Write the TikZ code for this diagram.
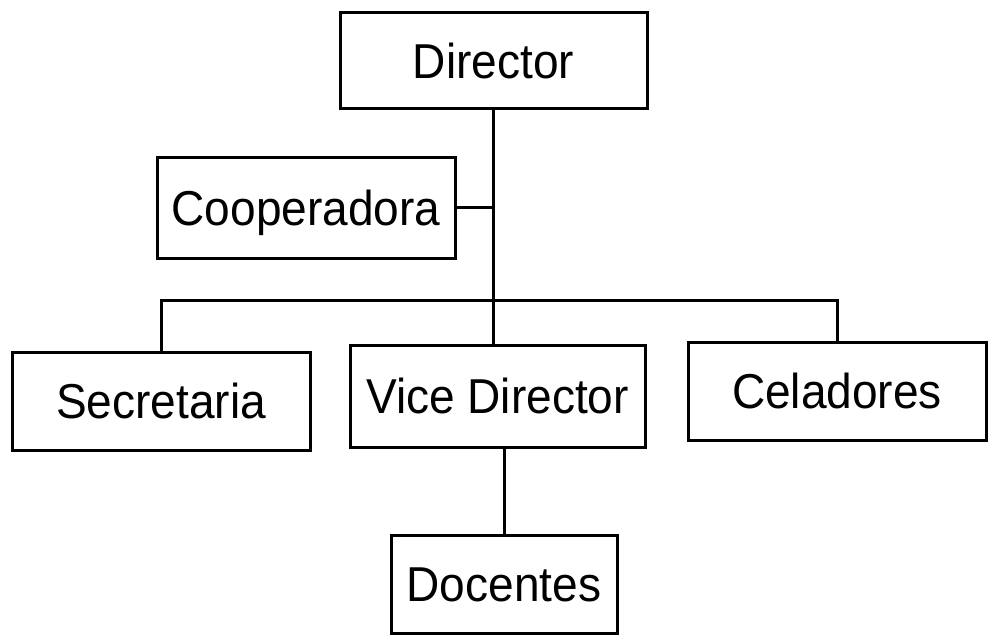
\documentclass[tikz,border=0pt]{standalone}
\usepackage{fontspec}
\setmainfont{Liberation Sans}[FakeStretch=0.94]
\newcommand\orgfont{\fontsize{49}{55}\selectfont}
\begin{document}
\begin{tikzpicture}[x=1pt,y=-1pt,
  box/.style={draw, rectangle, line width=3pt, inner sep=0pt,
    text height=35pt, text depth=0pt, font=\orgfont},
  link/.style={line width=3pt}]
\useasboundingbox (0,0) rectangle (992,636);

% org chart boxes
\node[box, minimum width=307pt, minimum height=96pt]  (dir)  at (493.5,61) {Director};
\node[box, minimum width=298pt, minimum height=100pt] (coop) at (306,208)  {Cooperadora};
\node[box, minimum width=298pt, minimum height=98pt]  (sec)  at (161,401)  {Secretaria};
\node[box, minimum width=295pt, minimum height=102pt] (vice) at (497.5,396) {Vice Director};
\node[box, minimum width=298pt, minimum height=98pt]  (cel)  at (837,391)  {Celadores};
\node[box, minimum width=226pt, minimum height=98pt]  (doc)  at (504,584)  {Docentes};

% bus line feeding the second level
\coordinate (busL) at (sec.north |- 0,300);
\coordinate (busR) at (cel.north |- 0,300);

% connectors
\draw[link] (dir.south) -- (dir.south |- vice.north);
\draw[link] (coop.east) -- (coop.east -| dir.south);
\draw[link] (sec.north) -- (busL) -- (busR) -- (cel.north);
\draw[link] (doc.north) -- (doc.north |- vice.south);
\end{tikzpicture}
\end{document}
